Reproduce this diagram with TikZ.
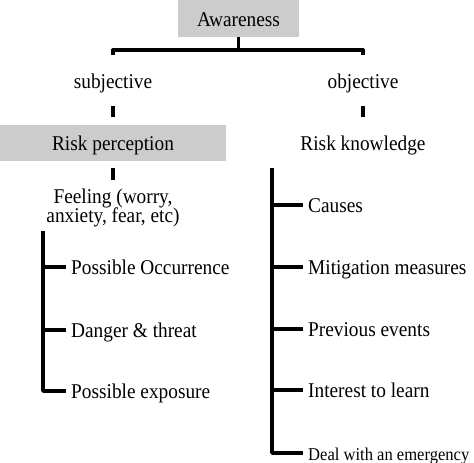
\documentclass[tikz,border=0pt]{standalone}
\usepackage{fontspec}
\setmainfont{Liberation Serif}[FakeStretch=0.92]
\usepackage{tikz}
\usetikzlibrary{positioning}

\begin{document}
\begin{tikzpicture}[x=1pt,y=-1pt,
    txt/.style={inner sep=0pt,text height=16pt,text depth=1pt,font=\fontsize{21}{23}\selectfont},
    greybox/.style={txt,fill=black!20},
    bar/.style={line width=3.8pt,line join=round}]
    \useasboundingbox (0,0) rectangle (474,463);

    % Top box and the two sides
    \node[greybox,minimum width=121pt,minimum height=37pt] (aware) at (238.5,18.5) {Awareness};
    \node[txt] (subj) at (113,81) {subjective};
    \node[txt] (obj) at (363,81) {objective};

    % Bracket
    \draw[bar] (aware.south) -- ++(0,13) coordinate (mid);
    \draw[bar] (subj |- mid) ++(0,5) -- ++(0,-5) -- (obj |- mid) -- ++(0,5);

    % Second level
    \node[greybox,minimum width=226pt,minimum height=36pt] (perc) at (113,143) {Risk perception};
    \node[txt,minimum height=36pt] (know) at (363,143) {Risk knowledge};
    \draw[bar,shorten <=16.5pt,shorten >=8pt] (subj) -- (perc);
    \draw[bar,shorten <=16.5pt,shorten >=8pt] (obj) -- (know);

    % Feeling
    \node[inner sep=0pt,align=center,font=\fontsize{21}{19.5}\selectfont] (feel) at (113,208) {Feeling (worry,\\anxiety, fear, etc)};
    \draw[bar] (perc.south) ++(0,7) -- ++(0,12);

    % Left list
    \coordinate (stemL) at (43,231);
    \node[txt,anchor=west] (occ) at (71,267) {Possible Occurrence};
    \node[txt,anchor=west] (danger) at (71,330) {Danger \& threat};
    \node[txt,anchor=west] (expo) at (71,391) {Possible exposure};
    \draw[bar] (stemL) -- (stemL |- expo.west) -- ([xshift=-5pt]expo.west);
    \draw[bar] (stemL |- occ.west) -- ([xshift=-5pt]occ.west);
    \draw[bar] (stemL |- danger.west) -- ([xshift=-5pt]danger.west);

    % Right list
    \coordinate (stemR) at (272,168);
    \node[txt,anchor=west] (causes) at (308,205) {Causes};
    \node[txt,anchor=west] (mitig) at (308,267) {Mitigation measures};
    \node[txt,anchor=west] (prev) at (308,329) {Previous events};
    \node[txt,anchor=west] (learn) at (308,390) {Interest to learn};
    \node[txt,anchor=west,font=\fontsize{18}{20}\selectfont] (deal) at (308,453) {Deal with an emergency};
    \draw[bar] (stemR) -- (stemR |- deal.west) -- ([xshift=-5pt]deal.west);
    \foreach \n in {causes,mitig,prev,learn}
        \draw[bar] (stemR |- \n.west) -- ([xshift=-5pt]\n.west);
\end{tikzpicture}
\end{document}
